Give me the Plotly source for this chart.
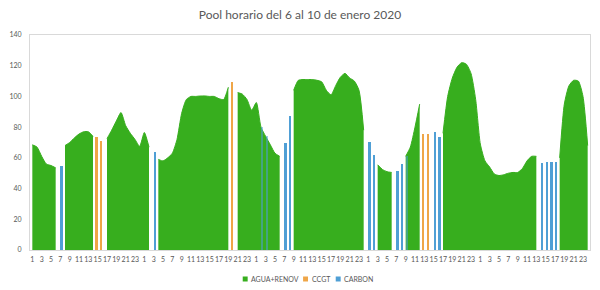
import plotly.graph_objects as go

# ---------------- data (one value per hour, 6-10 Jan 2020) ----------------
N = None
agua_d1 = [68.5, 67, 61, 56, 55, 53.5, N, 68, 70, 73, 75.5, 77, 77, 74, N, N, 72.5, 78, 84, 89.5, 81, 76, 72, 67.5]
agua_d2 = [76.5, 67, N, 59, 58, 60, 63, 72, 89, 98, 100, 100, 100.3, 100.3, 100, 100, 98.5, 98, 106, N, 102.5, 101.5, 98, 91]
agua_d3 = [96, 80, 74, 68.5, 63, 61, N, N, 104, 110.5, 111, 111, 111, 110.5, 109.5, 104, 101, 107, 112.5, 115, 112, 110, 104, 78]
agua_d4 = [N, N, 55.5, 52.5, 51, 50.5, N, N, 61, 67, 80, 95, N, N, N, N, 76, 100, 112, 119, 122, 121, 115, 98]
agua_d5 = [69, 58, 54, 49.5, 48.5, 49, 50, 50.5, 50.5, 53, 58, 61, 61, N, N, N, N, 60, 95, 107, 110.5, 110, 100, 68]

ccgt_d1 = [N] * 14 + [73.5, 71] + [N] * 8
ccgt_d2 = [N] * 19 + [109.5] + [N] * 4
ccgt_d3 = [N] * 24
ccgt_d4 = [N] * 12 + [75.5, 75.5] + [N] * 10
ccgt_d5 = [N] * 24

carbon_d1 = [N] * 6 + [55] + [N] * 17
carbon_d2 = [N] * 2 + [64] + [N] * 21
carbon_d3 = [N, 80, 74, N, N, N, 69.5, 87] + [N] * 16
carbon_d4 = [70.5, 62, N, N, N, N, 51.5, 56, 61, N, N, N, N, N, 77, 73.5] + [N] * 8
carbon_d5 = [N] * 13 + [56.5, 57, 57, 57] + [N] * 7

agua = agua_d1 + agua_d2 + agua_d3 + agua_d4 + agua_d5
ccgt = ccgt_d1 + ccgt_d2 + ccgt_d3 + ccgt_d4 + ccgt_d5
carbon = carbon_d1 + carbon_d2 + carbon_d3 + carbon_d4 + carbon_d5

hours = list(range(1, 25)) * 5
idx = list(range(1, len(hours) + 1))
tick_idx = [i for i, h in zip(idx, hours) if h % 2 == 1]
tick_txt = [str(h) for h in hours if h % 2 == 1]

series_names = ["AGUA+RENOV", "CCGT", "CARBON"]
title_text = "Pool horario del 6 al 10 de enero 2020"

# ---------------- styles ----------------
GREEN = "#37ae1e"
ORANGE = "#efa648"
BLUE = "#4f9fd5"
BLUE_OVER = "rgba(79,159,213,0.55)"
TXT = "#595959"
FONT = "Lato"

carbon_colors = [BLUE_OVER if a is not None else BLUE for a in agua]

# split the green series into contiguous runs so each fills to zero on its own
segments = []
cur = []
for i, v in zip(idx, agua):
    if v is None:
        if cur:
            segments.append(cur)
        cur = []
    else:
        cur.append((i, v))
if cur:
    segments.append(cur)

fig = go.Figure()
for k, seg in enumerate(segments):
    fig.add_trace(go.Scatter(
        x=[p[0] for p in seg], y=[p[1] for p in seg], name=series_names[0],
        legendgroup="agua", mode="lines",
        line=dict(color=GREEN, width=1, shape="spline", smoothing=0.6),
        fill="tozeroy", fillcolor=GREEN,
        showlegend=False, hoverinfo="x+y",
    ))
fig.add_trace(go.Bar(
    x=idx, y=ccgt, name=series_names[1], marker=dict(color=ORANGE, line=dict(width=0)),
    xaxis="x2", yaxis="y2", showlegend=False,
))
fig.add_trace(go.Bar(
    x=idx, y=carbon, name=series_names[2], marker=dict(color=carbon_colors, line=dict(width=0)),
    xaxis="x2", yaxis="y2", showlegend=False,
))

L, R, T, B = 25, 9, 35, 40
W, H = 600, 290
pw, ph = W - L - R, H - T - B

xr = [0.5, len(idx) + 0.5]
yr = [0, 140]

fig.update_layout(
    width=W, height=H,
    margin=dict(l=L, r=R, t=T, b=B, pad=0),
    paper_bgcolor="white", plot_bgcolor="white",
    barmode="group", bargap=0, bargroupgap=0,
    font=dict(family=FONT, color=TXT, size=8),
    title=dict(text=title_text, x=0.5, xref="container", xanchor="center",
               y=1 - 15 / H, yref="container", yanchor="middle",
               font=dict(family=FONT, size=12, color=TXT)),
    xaxis=dict(range=xr, tickmode="array", tickvals=tick_idx, ticktext=tick_txt,
               tickangle=0, ticks="", showgrid=False, zeroline=False,
               showline=True, mirror=True, linecolor="#d9d9d9", linewidth=1,
               tickfont=dict(size=7, color=TXT, family=FONT), ticklabelstandoff=3),
    yaxis=dict(range=yr, tickmode="array", tickvals=list(range(0, 141, 20)),
               ticks="", showgrid=False, zeroline=False,
               showline=True, mirror=True, linecolor="#d9d9d9", linewidth=1,
               tickfont=dict(size=7, color=TXT, family=FONT), ticklabelstandoff=6),
    xaxis2=dict(range=xr, overlaying="x", visible=False),
    yaxis2=dict(range=yr, overlaying="y", visible=False),
)

# manual legend (small squares + labels), positions in pixels converted to paper
def px2x(px):
    return (px - L) / pw

def py2y(py):
    return (H - B - py) / ph

legend_items = [(series_names[0], GREEN, 240), (series_names[1], ORANGE, 301), (series_names[2], BLUE, 334)]
ly = 279
for name, col, sx in legend_items:
    fig.add_shape(type="rect", xref="paper", yref="paper",
                  x0=px2x(sx), x1=px2x(sx + 5), y0=py2y(ly + 2.5), y1=py2y(ly - 2.5),
                  fillcolor=col, line=dict(width=0))
    fig.add_annotation(xref="paper", yref="paper", x=px2x(sx + 6.5), y=py2y(ly),
                       text=name, showarrow=False, xanchor="left", yanchor="middle",
                       font=dict(size=7, color=TXT, family=FONT))

fig.write_html("out.html")
